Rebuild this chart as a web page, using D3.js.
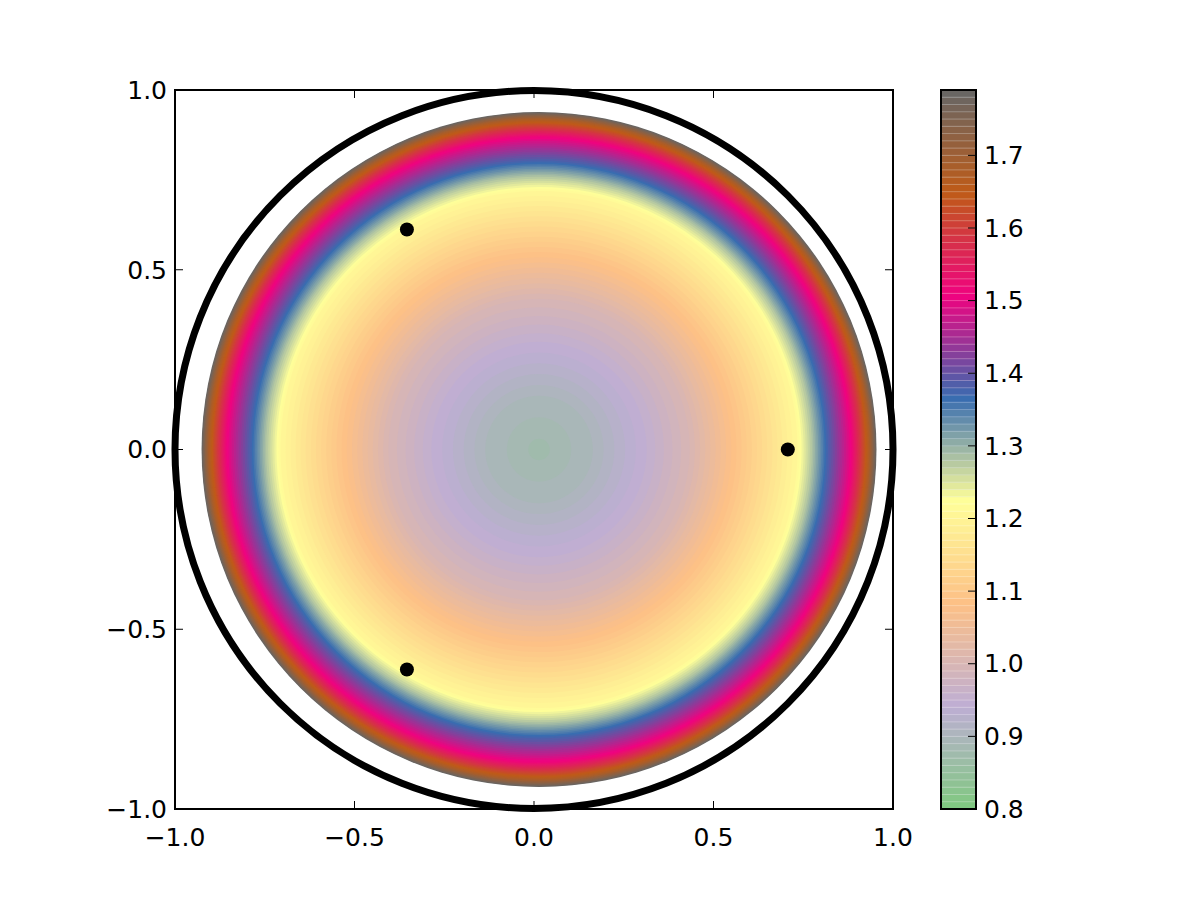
<!DOCTYPE html>
<html>
<head>
<meta charset="utf-8">
<script src="https://cdn.jsdelivr.net/npm/d3@7"></script>
<style>
  body { margin: 0; background: #fff; }
  svg text { font-family: "DejaVu Sans", sans-serif; font-size: 25px; fill: #000; }
</style>
</head>
<body>
<script>
// radial profile of the field (radius from disk centre -> value)
var profileR = [0, 0.15, 0.3, 0.42, 0.55, 0.65, 0.72, 0.76, 0.8, 0.84, 0.87, 0.895, 0.92, 0.94];
var profileV = [0.875, 0.9, 0.95, 1.0, 1.09, 1.16, 1.21, 1.28, 1.37, 1.45, 1.51, 1.59, 1.68, 1.79];
var diskCenter = [0.014, 0];

// contour levels (0.8 .. 1.79, step 0.01)
var levelMin = 0.8, levelMax = 1.79, levelStep = 0.01;

// marker points and the reference circle
var pointsX = [0.707, -0.354, -0.354];
var pointsY = [0, 0.612, -0.612];
var circleR = 1.0;

var axisTicks = [-1.0, -0.5, 0.0, 0.5, 1.0];
var cbarTicks = [0.8, 0.9, 1.0, 1.1, 1.2, 1.3, 1.4, 1.5, 1.6, 1.7];

// Accent colormap, linearly interpolated
var accent = ["#7fc97f", "#beaed4", "#fdc086", "#ffff99", "#386cb0", "#f0027f", "#bf5b17", "#666666"];

var margin = {top: 90, left: 175},
    width = 718, height = 719;

var levels = d3.range(Math.round((levelMax - levelMin) / levelStep) + 1)
    .map(function(i) { return +(levelMin + i * levelStep).toFixed(2); });

var cmap = d3.scaleLinear()
    .domain(accent.map(function(c, i) { return i / (accent.length - 1); }))
    .range(accent)
    .interpolate(d3.interpolateRgb);

var norm = d3.scaleLinear().domain([levelMin, levelMax]);

var rOf = d3.scaleLinear().domain(profileV).range(profileR).clamp(true);

var x = d3.scaleLinear().domain([-1, 1]).range([0, width]);
var y = d3.scaleLinear().domain([-1, 1]).range([height, 0]);

var svg = d3.select("body").append("svg")
    .attr("width", 1200)
    .attr("height", 900);

var g = svg.append("g")
    .attr("transform", "translate(" + margin.left + "," + margin.top + ")");

// bands: from level i to level i+1
var bands = levels.slice(0, -1).map(function(l, i) {
  return {lo: l, hi: levels[i + 1], mid: (l + levels[i + 1]) / 2};
});

// filled contour rings, outermost first
var px = x(1) - x(0);
g.append("g").selectAll("circle")
    .data(bands.filter(function(b) { return b.hi > profileV[0]; }).reverse())
  .enter().append("circle")
    .attr("cx", x(diskCenter[0]))
    .attr("cy", y(diskCenter[1]))
    .attr("r", function(b) { return rOf(b.hi) * px; })
    .style("fill", function(b) { return cmap(norm(b.mid)); });

// axes frame and ticks (classic style: inward ticks on all sides)
function fmt(v) { return d3.format(".1f")(v).replace("-", "\u2212"); }

var tk = 8;
axisTicks.forEach(function(t) {
  g.append("line").attr("x1", x(t)).attr("x2", x(t)).attr("y1", height).attr("y2", height - tk).style("stroke", "#000");
  g.append("line").attr("x1", x(t)).attr("x2", x(t)).attr("y1", 0).attr("y2", tk).style("stroke", "#000");
  g.append("line").attr("y1", y(t)).attr("y2", y(t)).attr("x1", 0).attr("x2", tk).style("stroke", "#000");
  g.append("line").attr("y1", y(t)).attr("y2", y(t)).attr("x1", width).attr("x2", width - tk).style("stroke", "#000");
  g.append("text")
      .attr("x", x(t)).attr("y", height + 28)
      .attr("dy", ".35em")
      .style("text-anchor", "middle")
      .text(fmt(t));
  g.append("text")
      .attr("x", -8).attr("y", y(t)).attr("dy", ".35em")
      .style("text-anchor", "end")
      .text(fmt(t));
});

g.append("rect")
    .attr("width", width).attr("height", height)
    .style("fill", "none").style("stroke", "#000").style("stroke-width", 2);

// the unit circle
g.append("circle")
    .attr("cx", x(0))
    .attr("cy", y(0))
    .attr("r", circleR * px)
    .style("fill", "none")
    .style("stroke", "#000")
    .style("stroke-width", 7);

// points
g.append("g").selectAll("circle")
    .data(pointsX)
  .enter().append("circle")
    .attr("cx", function(d) { return x(d); })
    .attr("cy", function(d, i) { return y(pointsY[i]); })
    .attr("r", 7)
    .style("fill", "#000");

// colorbar
var cb = svg.append("g").attr("transform", "translate(941," + margin.top + ")");
var cbW = 35;
var cy = d3.scaleLinear().domain([levelMin, levelMax]).range([height, 0]);

cb.selectAll("rect.band")
    .data(bands)
  .enter().append("rect")
    .attr("class", "band")
    .attr("x", 0)
    .attr("width", cbW)
    .attr("y", function(b) { return cy(b.hi); })
    .attr("height", function(b) { return cy(b.lo) - cy(b.hi) + 0.5; })
    .style("fill", function(b) { return cmap(norm(b.mid)); });

cb.selectAll("line.seam")
    .data(levels.slice(1, -1))
  .enter().append("line")
    .attr("class", "seam")
    .attr("x1", 0).attr("x2", cbW)
    .attr("y1", function(d) { return cy(d); })
    .attr("y2", function(d) { return cy(d); })
    .style("stroke", "#fff")
    .style("stroke-opacity", 0.35)
    .style("stroke-width", 0.8);

cb.append("rect")
    .attr("width", cbW).attr("height", height)
    .style("fill", "none").style("stroke", "#000").style("stroke-width", 2);

cbarTicks.forEach(function(t) {
  cb.append("line")
      .attr("x1", cbW).attr("x2", cbW - 8)
      .attr("y1", cy(t)).attr("y2", cy(t))
      .style("stroke", "#000");
  cb.append("text")
      .attr("x", cbW + 8).attr("y", cy(t)).attr("dy", ".35em")
      .text(d3.format(".1f")(t));
});
</script>
</body>
</html>
